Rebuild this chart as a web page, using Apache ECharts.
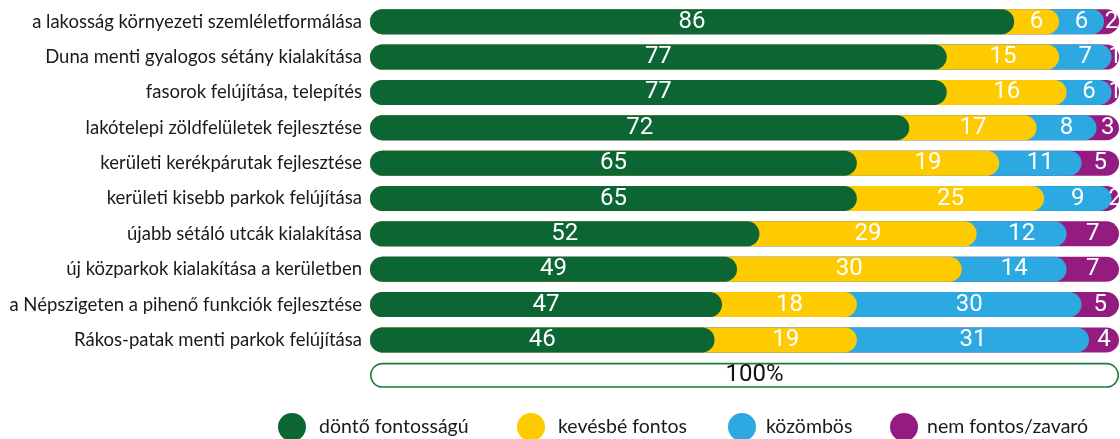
<!DOCTYPE html>
<html>
<head>
<meta charset="utf-8">
<script src="https://cdn.jsdelivr.net/npm/echarts@6/dist/echarts.min.js"></script>
<style>
html,body{margin:0;padding:0;background:#fff;}
#chart{width:1120px;height:439px;}
</style>
</head>
<body>
<div id="chart"></div>
<script>
const categories = [
  'a lakosság környezeti szemléletformálása',
  'Duna menti gyalogos sétány kialakítása',
  'fasorok felújítása, telepítés',
  'lakótelepi zöldfelületek fejlesztése',
  'kerületi kerékpárutak fejlesztése',
  'kerületi kisebb parkok felújítása',
  'újabb sétáló utcák kialakítása',
  'új közparkok kialakítása a kerületben',
  'a Népszigeten a pihenő funkciók fejlesztése',
  'Rákos-patak menti parkok felújítása'
];
const seriesNames = ['döntő fontosságú', 'kevésbé fontos', 'közömbös', 'nem fontos/zavaró'];
const dontoFontos = [86, 77, 77, 72, 65, 65, 52, 49, 47, 46];
const kevesbeFontos = [6, 15, 16, 17, 19, 25, 29, 30, 18, 19];
const kozombos = [6, 7, 6, 8, 11, 9, 12, 14, 30, 31];
const nemFontos = [2, 1, 1, 3, 5, 2, 7, 7, 5, 4];
const totalLabel = '100%';
const totalValue = 100;

const colors = ['#0c6634', '#fecb00', '#2ca9e1', '#941c80'];
const groups = [dontoFontos, kevesbeFontos, kozombos, nemFontos];

const yCats = categories.concat(['']);
const BW = 25;
const R = 12.5;

// cumulative values for overlapping rounded bars
const cumul = groups.map((g, gi) => g.map((v, i) => {
  let s = 0;
  for (let k = 0; k <= gi; k++) s += groups[k][i];
  return s;
}));

const series = [];
series.push({
  name: '__total',
  type: 'bar',
  barWidth: BW,
  barGap: '-100%',
  silent: true,
  data: yCats.map((c, i) => i === categories.length ? totalValue : '-'),
  itemStyle: { color: '#ffffff', borderColor: '#1f7a3e', borderWidth: 1.6, borderRadius: R },
  label: {
    show: true, position: 'inside', formatter: totalLabel,
    color: '#111', fontFamily: 'Roboto', fontSize: 24, offset: [10, 0]
  },
  z: 1
});
for (let gi = 3; gi >= 0; gi--) {
  series.push({
    name: seriesNames[gi],
    type: 'bar',
    barWidth: BW,
    barGap: '-100%',
    data: cumul[gi],
    itemStyle: { color: colors[gi], borderRadius: R },
    z: 2 + (3 - gi)
  });
}
for (let gi = 0; gi < 4; gi++) {
  series.push({
    name: '__lbl' + gi,
    type: 'bar',
    stack: 'lbl',
    barWidth: BW,
    barGap: '-100%',
    silent: true,
    data: groups[gi],
    itemStyle: { color: 'rgba(0,0,0,0)' },
    label: {
      show: true, position: 'inside', color: '#ffffff',
      fontFamily: 'Roboto', fontSize: 24,
      formatter: p => p.value
    },
    z: 10
  });
}

const legendLeft = [278, 517, 728, 890];
const legendTextPad = [8, 8, 5, 4];
const legends = seriesNames.map((n, i) => ({
  data: [n],
  left: legendLeft[i],
  top: 413,
  padding: 0,
  itemWidth: 28,
  itemHeight: 28,
  icon: 'circle',
  selectedMode: false,
  textStyle: { fontFamily: 'Lato', fontSize: 19.5, color: '#1a1a1a', padding: [0, 0, 0, legendTextPad[i]] }
}));

const chart = echarts.init(document.getElementById('chart'));
chart.setOption({
  animation: false,
  color: colors,
  legend: legends,
  grid: { left: 370, right: 1, top: 4, bottom: 46, containLabel: false },
  xAxis: { type: 'value', min: 0, max: 100, show: false },
  yAxis: {
    type: 'category',
    data: yCats,
    inverse: true,
    axisLine: { show: false },
    axisTick: { show: false },
    axisLabel: { margin: 8, fontFamily: 'Lato', fontSize: 18.5, color: '#1a1a1a' }
  },
  series: series
});
</script>
</body>
</html>
